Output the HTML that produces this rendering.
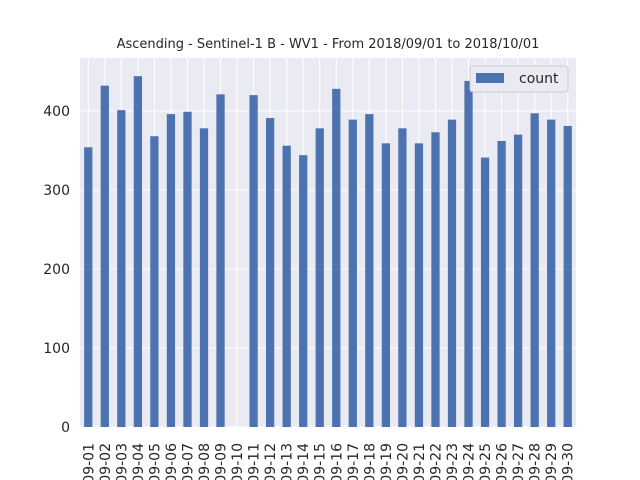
<!DOCTYPE html>
<html><head><meta charset="utf-8"><style>html,body{margin:0;background:#fff;width:640px;height:480px;overflow:hidden}svg{display:block}</style></head>
<body>
<svg id="chart" width="640" height="480" xmlns="http://www.w3.org/2000/svg" font-family="'DejaVu Sans','Liberation Sans',sans-serif">
<text x="328" y="48" text-anchor="middle" font-size="13" fill="#262626">Ascending - Sentinel-1 B - WV1 - From 2018/09/01 to 2018/10/01</text>
<g id="plot"></g>
</svg>
<script>
const categories = ["2018-09-01","2018-09-02","2018-09-03","2018-09-04","2018-09-05","2018-09-06","2018-09-07","2018-09-08","2018-09-09","2018-09-10","2018-09-11","2018-09-12","2018-09-13","2018-09-14","2018-09-15","2018-09-16","2018-09-17","2018-09-18","2018-09-19","2018-09-20","2018-09-21","2018-09-22","2018-09-23","2018-09-24","2018-09-25","2018-09-26","2018-09-27","2018-09-28","2018-09-29","2018-09-30"];
const counts = [354,432,401,444,368,396,399,378,421,0,420,391,356,344,378,428,389,396,359,378,359,373,389,438,341,362,370,397,389,381];
const yTicks = [0,100,200,300,400];
const NS="http://www.w3.org/2000/svg";
const g=document.getElementById('plot');
const L=80,R=576,T=58,B=427;
const yMax=467;
const y=v=>B-(v/yMax)*(B-T);
const slot=(R-L)/categories.length;
const x=i=>L+slot*(i+0.5);
function mk(t,a,p){const e=document.createElementNS(NS,t);for(const k in a)e.setAttribute(k,a[k]);(p||g).appendChild(e);return e;}
const bg=mk('rect',{x:L,y:T,width:R-L,height:B-T,fill:'#eaeaf2'});


yTicks.forEach(v=>{
  const ln=mk('line',{x1:L,x2:R,y1:y(v),y2:y(v),stroke:'#fff','stroke-width':1});
  
  
  const t=mk('text',{x:L-10,y:y(v)+5,'text-anchor':'end','font-size':14,fill:'#262626'});
  t.textContent=v;
  
  
});
categories.forEach((c,i)=>{
  const ln=mk('line',{x1:x(i),x2:x(i),y1:T,y2:B,stroke:'#fff','stroke-width':1});
  
  
});
categories.forEach((c,i)=>{
  const w=slot*0.5;
  const r=mk('rect',{x:x(i)-w/2,y:y(counts[i]),width:w,height:B-y(counts[i]),fill:'#4c72b0'});
  
  
  const t=mk('text',{x:0,y:0,'text-anchor':'end','font-size':14,fill:'#262626',transform:`translate(${x(i)+5},443) rotate(-90)`});
  t.textContent=c;
  
  
});
const lg=mk('g',{});


mk('rect',{x:470,y:66,width:98,height:26,rx:3,fill:'#eaeaf2',stroke:'#cccccc'},lg);
const sw=mk('rect',{x:476,y:73,width:28,height:10,fill:'#4c72b0'},lg);


const lt=mk('text',{x:519,y:83,'font-size':14,fill:'#262626'},lg);
lt.textContent='count';


</script>
</body></html>
